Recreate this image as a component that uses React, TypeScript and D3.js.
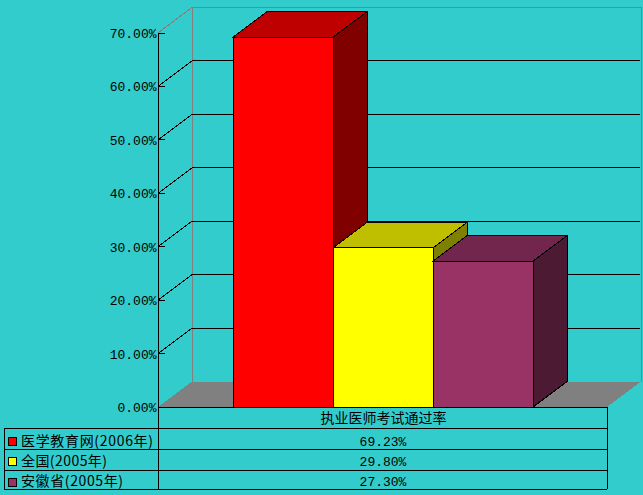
import React from "react";
import * as d3 from "d3";

const categories = ["医学教育网(2006年)", "全国(2005年)", "安徽省(2005年)"];
const values = [69.23, 29.8, 27.3];
const valueLabels = ["69.23%", "29.80%", "27.30%"];
const seriesName = "执业医师考试通过率";
const ticks = [0, 10, 20, 30, 40, 50, 60, 70];
const frontColors = ["#ff0000", "#ffff00", "#993366"];
const topColors = ["#bf0000", "#bfbf00", "#73264d"];
const sideColors = ["#800000", "#808000", "#4d1a33"];

const W = 643, H = 495;
const BG = "#33cccc";
const DX = 34, DY = -25.5;
const X0 = 158, X1 = 607;
const TX0 = 4, ROWS = [407, 428, 449, 470, 489];
const LABEL_ENDS = [153, 107, 123];
const LABEL_Y = [446, 466, 486];
const SWATCH_Y = [437, 457, 478];
const y = d3.scaleLinear().domain([0, 70]).range([407, 33]);
const x = d3.scaleBand<number>().domain([0, 1, 2]).range([233, 533]);
const FONT = "'Noto Sans CJK SC', sans-serif";
const MONO = "'Liberation Mono', monospace";

export default function App() {
  const pts = (p: number[][]) => p.map((a) => a.join(",")).join(" ");
  return (
    <svg width={W} height={H} style={{ position: "absolute", left: 0, top: 0, display: "block" }}>
      <g shapeRendering="crispEdges">
        <rect width={W} height={H} fill={BG} />
        <polyline points={pts([[X0 + DX, y(0) + DY], [X0 + DX, y(70) + DY], [X1 + DX, y(70) + DY], [X1 + DX, y(0) + DY]])} fill="none" stroke="#808080" />
        <polygon points={pts([[X0, y(0)], [X0 + DX, y(0) + DY], [X1 + DX, y(0) + DY], [X1, y(0)]])} fill="#808080" />
        {ticks.slice(1).map((t) => (
          <g key={t}>
            <line x1={X0} y1={y(t)} x2={X0 + DX} y2={y(t) + DY} stroke={t === 70 ? "#808080" : "#000"} />
            {t < 70 && <line x1={X0 + DX} y1={y(t) + DY} x2={X1 + DX - 1} y2={y(t) + DY} stroke="#000" />}
          </g>
        ))}
        {values.map((v, i) => {
          const l = x(i)!, r = l + x.bandwidth(), t = y(v), b = y(0);
          return (
            <g key={i} stroke="#000" strokeWidth={1}>
              <polygon points={pts([[l, t], [l + DX, t + DY], [r + DX, t + DY], [r, t]])} fill={topColors[i]} />
              <polygon points={pts([[r, t], [r + DX, t + DY], [r + DX, b + DY], [r, b]])} fill={sideColors[i]} />
              <rect x={l} y={t} width={x.bandwidth()} height={b - t} fill={frontColors[i]} />
            </g>
          );
        })}
        <g stroke="#000">
          <line x1={X0} y1={y(70)} x2={X0} y2={ROWS[4]} />
          {ticks.map((t) => (
            <line key={t} x1={X0} y1={y(t)} x2={X0 + 7} y2={y(t)} />
          ))}
          <line x1={X0} y1={ROWS[0]} x2={X1} y2={ROWS[0]} />
          {ROWS.slice(1).map((r) => (
            <line key={r} x1={TX0} y1={r} x2={X1} y2={r} />
          ))}
          <line x1={TX0} y1={ROWS[1]} x2={TX0} y2={ROWS[4]} />
          <line x1={X1} y1={ROWS[0]} x2={X1} y2={ROWS[4]} />
          {categories.map((c, i) => (
            <rect key={c} x={8} y={SWATCH_Y[i]} width={8} height={8} fill={frontColors[i]} />
          ))}
        </g>
      </g>
      {ticks.map((t) => (
        <text key={t} x={156.5} y={y(t) + 5} textAnchor="end" fontFamily={MONO} fontSize={13} fill="#000">
          {t.toFixed(2)}%
        </text>
      ))}
      <text x={383.5} y={423} textAnchor="middle" fontFamily={FONT} fontSize={14} fill="#000">{seriesName}</text>
      {categories.map((c, i) => (
        <text key={c} x={21} y={LABEL_Y[i]} fontFamily={FONT} fontSize={14} textLength={LABEL_ENDS[i] - 21} lengthAdjust="spacing" fill="#000">{c}</text>
      ))}
      {valueLabels.map((c, i) => (
        <text key={c} x={383} y={LABEL_Y[i]} textAnchor="middle" fontFamily={MONO} fontSize={13} fill="#000">{c}</text>
      ))}
    </svg>
  );
}
